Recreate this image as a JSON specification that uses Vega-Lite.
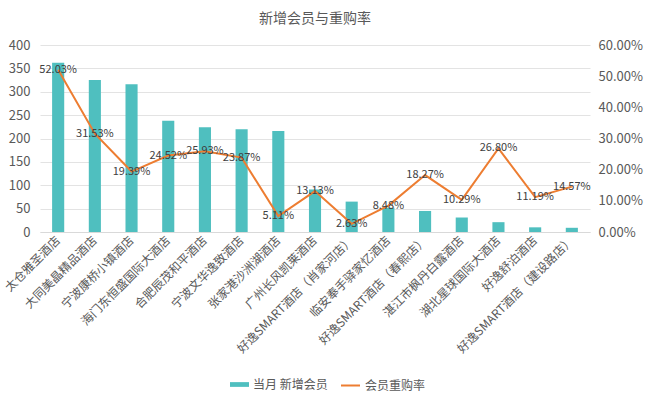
{
  "$schema": "https://vega.github.io/schema/vega-lite/v6.json",
  "width": 550,
  "height": 187,
  "autosize": {"type": "none"},
  "padding": {"left": 40, "top": 45, "right": 60, "bottom": 169},
  "background": "white",
  "config": {
    "font": "Noto Sans CJK SC",
    "view": {"stroke": null},
    "axis": {"labelColor": "#595959", "ticks": false, "domain": false, "labelFont": "Noto Sans CJK SC"},
    "legend": {"labelColor": "#595959", "labelFontSize": 12, "labelFont": "Noto Sans CJK SC"}
  },
  "title": {
    "text": "新增会员与重购率",
    "fontSize": 14,
    "fontWeight": "normal",
    "color": "#595959",
    "offset": 13
  },
  "data": {
    "values": [
      {"hotel": "太仓雅圣酒店", "members": 362, "rate": 0.5203},
      {"hotel": "大同美晶精品酒店", "members": 325, "rate": 0.3153},
      {"hotel": "宁波康桥小镇酒店", "members": 316, "rate": 0.1939},
      {"hotel": "海门东恒盛国际大酒店", "members": 238, "rate": 0.2452},
      {"hotel": "合肥辰茂和平酒店", "members": 224, "rate": 0.2593},
      {"hotel": "宁波文华逸致酒店", "members": 220, "rate": 0.2387},
      {"hotel": "张家港沙洲湖酒店", "members": 216, "rate": 0.0511},
      {"hotel": "广州长风凯莱酒店", "members": 91, "rate": 0.1313},
      {"hotel": "好逸SMART酒店（肖家河店）", "members": 65, "rate": 0.0263},
      {"hotel": "临安奉手驿家忆酒店", "members": 52, "rate": 0.0848},
      {"hotel": "好逸SMART酒店（春熙店）", "members": 45, "rate": 0.1827},
      {"hotel": "湛江市枫丹白露酒店", "members": 31, "rate": 0.1029},
      {"hotel": "湖北星球国际大酒店", "members": 21, "rate": 0.268},
      {"hotel": "好逸舒泊酒店", "members": 10, "rate": 0.1119},
      {"hotel": "好逸SMART酒店（建设路店）", "members": 9, "rate": 0.1457}
    ]
  },
  "encoding": {
    "x": {
      "field": "hotel",
      "type": "nominal",
      "sort": null,
      "title": null,
      "scale": {"paddingInner": 0.67, "paddingOuter": 0.33},
      "axis": {"labelAngle": -45, "labelFontSize": 12, "labelAlign": "right", "labelBaseline": "middle", "labelPadding": 6, "domain": true, "domainColor": "#d9d9d9", "labelLimit": 300}
    }
  },
  "layer": [
    {
      "mark": {"type": "bar", "color": "#4fbfbf"},
      "encoding": {
        "y": {
          "field": "members",
          "type": "quantitative",
          "title": null,
          "scale": {"domain": [0, 400]},
          "axis": {"values": [0, 50, 100, 150, 200, 250, 300, 350, 400], "labelFontSize": 13, "gridColor": "#e3e3e3", "labelPadding": 10, "labelOverlap": false}
        },
        "color": {
          "datum": "当月 新增会员",
          "scale": {"range": ["#4fbfbf"]},
          "legend": {"title": null, "orient": "none", "legendX": 190, "legendY": 330, "symbolType": "M-1,-0.25H1V0.25H-1Z", "symbolSize": 361, "symbolStrokeWidth": 0}
        }
      }
    },
    {
      "encoding": {
        "y": {
          "field": "rate",
          "type": "quantitative",
          "title": null,
          "scale": {"domain": [0, 0.6]},
          "axis": {"orient": "right", "format": ".2%", "values": [0, 0.1, 0.2, 0.3, 0.4, 0.5, 0.6], "grid": false, "labelFontSize": 13, "labelPadding": 8, "labelOverlap": false}
        }
      },
      "layer": [
        {
          "mark": {"type": "line", "color": "#ed7d31", "strokeWidth": 2},
          "encoding": {
            "stroke": {
              "datum": "会员重购率",
              "scale": {"range": ["#ed7d31"]},
              "legend": {"title": null, "orient": "none", "legendX": 300, "legendY": 330, "symbolType": "stroke", "symbolSize": 361, "symbolStrokeWidth": 2}
            }
          }
        },
        {
          "mark": {"type": "text", "fontSize": 11, "color": "#404040", "baseline": "middle"},
          "encoding": {
            "text": {"field": "rate", "type": "quantitative", "format": ".2%"}
          }
        }
      ]
    }
  ],
  "resolve": {"scale": {"y": "independent", "color": "independent"}}
}
